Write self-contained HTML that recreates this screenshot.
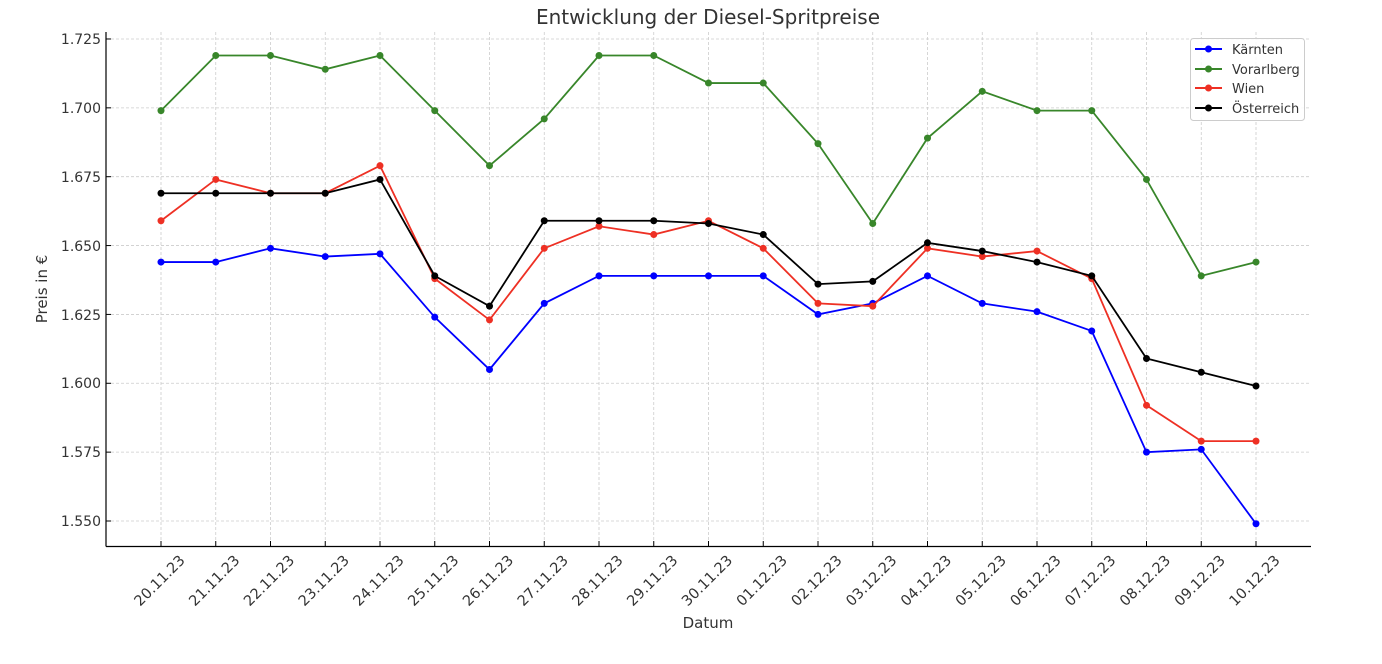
<!DOCTYPE html>
<html><head><meta charset="utf-8"><style>
body{margin:0;background:#fff}
svg{display:block;font-family:"DejaVu Sans","Liberation Sans",sans-serif}
</style></head><body>
<svg id="s" width="1382" height="664" viewBox="0 0 1382 664" xmlns="http://www.w3.org/2000/svg">
<rect width="1382" height="664" fill="#fff"/>
<g id="grid" stroke="#cccccc" stroke-width="0.8" stroke-dasharray="3,2"></g>
<text x="708" y="24" font-size="20" text-anchor="middle" fill="#333">Entwicklung der Diesel-Spritpreise</text>
<g font-size="14" fill="#333" text-anchor="end">
<text x="101" y="44">1.725</text><text x="101" y="113">1.700</text><text x="101" y="182">1.675</text><text x="101" y="251">1.650</text><text x="101" y="320">1.625</text><text x="101" y="388">1.600</text><text x="101" y="457">1.575</text><text x="101" y="526">1.550</text>
</g>
<g font-size="14.5" fill="#333" text-anchor="middle">
<text transform="translate(163,584) rotate(-45)">20.11.23</text>
<text transform="translate(217.75,584) rotate(-45)">21.11.23</text>
<text transform="translate(272.5,584) rotate(-45)">22.11.23</text>
<text transform="translate(327.25,584) rotate(-45)">23.11.23</text>
<text transform="translate(382,584) rotate(-45)">24.11.23</text>
<text transform="translate(436.75,584) rotate(-45)">25.11.23</text>
<text transform="translate(491.5,584) rotate(-45)">26.11.23</text>
<text transform="translate(546.25,584) rotate(-45)">27.11.23</text>
<text transform="translate(601,584) rotate(-45)">28.11.23</text>
<text transform="translate(655.75,584) rotate(-45)">29.11.23</text>
<text transform="translate(710.5,584) rotate(-45)">30.11.23</text>
<text transform="translate(765.25,584) rotate(-45)">01.12.23</text>
<text transform="translate(820,584) rotate(-45)">02.12.23</text>
<text transform="translate(874.75,584) rotate(-45)">03.12.23</text>
<text transform="translate(929.5,584) rotate(-45)">04.12.23</text>
<text transform="translate(984.25,584) rotate(-45)">05.12.23</text>
<text transform="translate(1039,584) rotate(-45)">06.12.23</text>
<text transform="translate(1093.75,584) rotate(-45)">07.12.23</text>
<text transform="translate(1148.5,584) rotate(-45)">08.12.23</text>
<text transform="translate(1203.25,584) rotate(-45)">09.12.23</text>
<text transform="translate(1258,584) rotate(-45)">10.12.23</text>
</g>
<text x="708" y="628" font-size="15" text-anchor="middle" fill="#333">Datum</text>
<text transform="translate(47,289) rotate(-90)" font-size="15" text-anchor="middle" fill="#333">Preis in €</text>
<g id="ticks" stroke="#000" stroke-width="1"></g>
<line x1="106" y1="32" x2="106" y2="546.5" stroke="#000" stroke-width="1.2"/>
<line x1="106" y1="546.5" x2="1311" y2="546.5" stroke="#000" stroke-width="1.2"/>
<g id="series"></g>
<rect x="1190.5" y="38.5" width="114" height="82" rx="3" fill="#fff" fill-opacity="0.85" stroke="#ccc"/>
<g font-size="13" fill="#333">
<line x1="1195" y1="49" x2="1222" y2="49" stroke="#0000ff" stroke-width="2"/><circle cx="1208.5" cy="49" r="3.5" fill="#0000ff"/><text x="1232" y="54">Kärnten</text>
<line x1="1195" y1="69" x2="1222" y2="69" stroke="#38862a" stroke-width="2"/><circle cx="1208.5" cy="69" r="3.5" fill="#38862a"/><text x="1232" y="74">Vorarlberg</text>
<line x1="1195" y1="88" x2="1222" y2="88" stroke="#ee3024" stroke-width="2"/><circle cx="1208.5" cy="88" r="3.5" fill="#ee3024"/><text x="1232" y="93">Wien</text>
<line x1="1195" y1="108" x2="1222" y2="108" stroke="#000" stroke-width="2"/><circle cx="1208.5" cy="108" r="3.5" fill="#000"/><text x="1232" y="113">Österreich</text>
</g>
</svg>
<script>
(function(){
var NS="http://www.w3.org/2000/svg";
function el(p,n,a){var e=document.createElementNS(NS,n);for(var k in a)e.setAttribute(k,a[k]);p.appendChild(e);return e;}
function X(i){return 161+i*54.75;}
function Y(v){return 521-(v-1.55)/0.025*68.86;}
var g=document.getElementById("grid"),t=document.getElementById("ticks"),s=document.getElementById("series");
for(var i=0;i<21;i++){el(g,"line",{x1:X(i),y1:32,x2:X(i),y2:546});el(t,"line",{x1:X(i),y1:546,x2:X(i),y2:541});}
for(var j=0;j<8;j++){var v=1.55+j*0.025;el(g,"line",{x1:106,y1:Y(v),x2:1311,y2:Y(v)});el(t,"line",{x1:106,y1:Y(v),x2:111,y2:Y(v)});}
var data=[
["#0000ff",[1.644,1.644,1.649,1.646,1.647,1.624,1.605,1.629,1.639,1.639,1.639,1.639,1.625,1.629,1.639,1.629,1.626,1.619,1.575,1.576,1.549]],
["#38862a",[1.699,1.719,1.719,1.714,1.719,1.699,1.679,1.696,1.719,1.719,1.709,1.709,1.687,1.658,1.689,1.706,1.699,1.699,1.674,1.639,1.644]],
["#ee3024",[1.659,1.674,1.669,1.669,1.679,1.638,1.623,1.649,1.657,1.654,1.659,1.649,1.629,1.628,1.649,1.646,1.648,1.638,1.592,1.579,1.579]],
["#000000",[1.669,1.669,1.669,1.669,1.674,1.639,1.628,1.659,1.659,1.659,1.658,1.654,1.636,1.637,1.651,1.648,1.644,1.639,1.609,1.604,1.599]]];
data.forEach(function(d){var pts=d[1].map(function(v,i){return X(i)+","+Y(v);}).join(" ");
el(s,"polyline",{points:pts,fill:"none",stroke:d[0],"stroke-width":1.8});
d[1].forEach(function(v,i){el(s,"circle",{cx:X(i),cy:Y(v),r:3.5,fill:d[0]});});});
})();
</script>
</body></html>
